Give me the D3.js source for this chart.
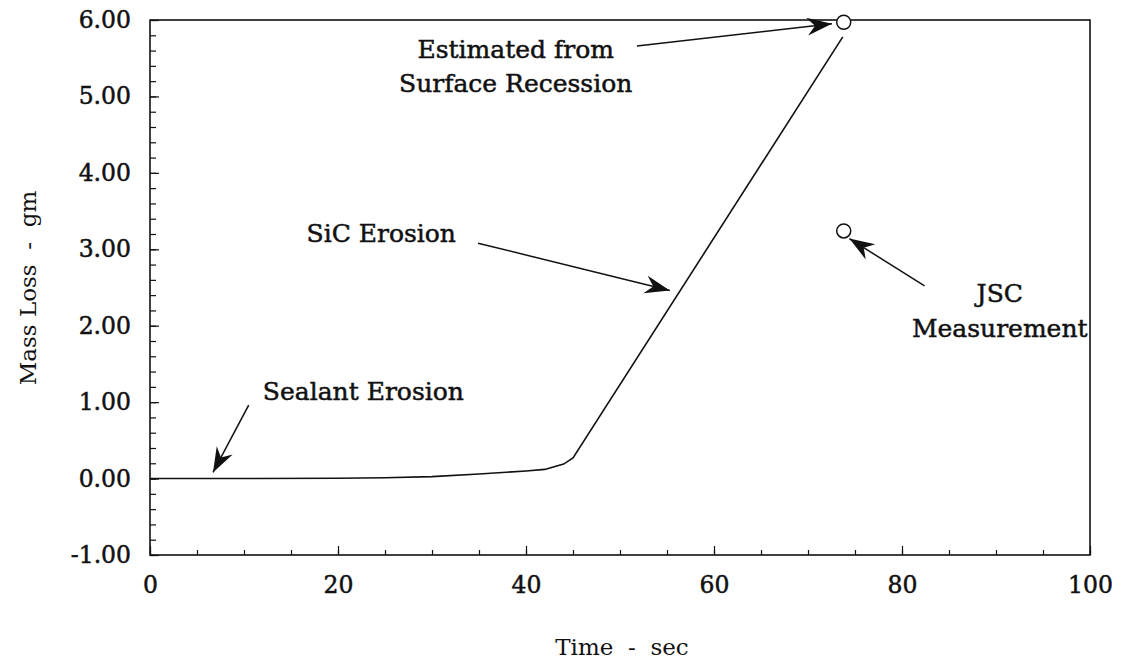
<!DOCTYPE html>
<html>
<head>
<meta charset="utf-8">
<script src="https://cdn.jsdelivr.net/npm/d3@7"></script>
<style>
  body { margin: 0; background: #fff; }
  text { font-family: "DejaVu Serif", serif; fill: #111; }
</style>
</head>
<body>
<div id="chart"></div>
<script>
// mass loss curve
var time = [0, 10, 20, 25, 30, 35, 40, 42, 44, 45, 73.7];
var massLoss = [0, 0, 0.005, 0.01, 0.025, 0.06, 0.1, 0.12, 0.19, 0.27, 5.78];

// open circle points
var pointNames = ["Estimated", "JSC"];
var pointTime = [73.8, 73.8];
var pointMass = [5.97, 3.24];

var xTicks = [0, 20, 40, 60, 80, 100];
var yTicks = [-1, 0, 1, 2, 3, 4, 5, 6];

// annotation text lines (time, mass of baseline centre)
var noteLines = ["Estimated from", "Surface Recession", "SiC Erosion", "Sealant Erosion", "JSC", "Measurement"];
var noteTime = [38.9, 38.9, 24.6, 22.7, 90.4, 90.4];
var noteMass = [5.5, 5.06, 3.1, 1.03, 2.31, 1.85];

// arrows: tail -> tip
var arrowFromT = [51.8, 34.9, 82.4, 10.5];
var arrowFromM = [5.66, 3.08, 2.52, 0.96];
var arrowToT = [72.55, 55.3, 74.4, 6.7];
var arrowToM = [5.95, 2.46, 3.14, 0.08];

var width = 1126, height = 664;
var mLeft = 150, mRight = 1090, mTop = 20, mBottom = 555;

var svg = d3.select("#chart").append("svg")
	.attr("width", width)
	.attr("height", height);

var x = d3.scaleLinear().domain([0, 100]).range([mLeft, mRight]);
var y = d3.scaleLinear().domain([-1, 6]).range([mBottom, mTop]);

// minor ticks
svg.append("g")
	.attr("transform", "translate(0," + mBottom + ")")
	.call(d3.axisBottom(x).tickValues(d3.range(0, 101, 5)).tickSize(-5).tickFormat(""))
	.call(function(g){ g.select(".domain").remove(); });
svg.append("g")
	.attr("transform", "translate(" + mLeft + ",0)")
	.call(d3.axisLeft(y).tickValues(d3.range(-1, 6.01, 0.2)).tickSize(-6).tickFormat(""))
	.call(function(g){ g.select(".domain").remove(); });

// major ticks + labels
var xAxis = svg.append("g")
	.attr("transform", "translate(0," + mBottom + ")")
	.call(d3.axisBottom(x).tickValues(xTicks).tickSize(-9).tickPadding(21).tickFormat(d3.format("d")));
xAxis.select(".domain").remove();

var yAxis = svg.append("g")
	.attr("transform", "translate(" + mLeft + ",0)")
	.call(d3.axisLeft(y).tickValues(yTicks).tickSize(-9).tickPadding(19)
		.tickFormat(function(d){ return d.toFixed(2); }));
yAxis.select(".domain").remove();

svg.selectAll(".tick line").attr("stroke", "#111").attr("stroke-width", 1.2);
svg.selectAll(".tick text")
	.attr("font-family", "DejaVu Serif")
	.attr("font-size", 23.5)
	.attr("fill", "#111")
	.attr("stroke", "#111")
	.attr("stroke-width", 0.5);

// frame
svg.append("rect")
	.attr("x", mLeft)
	.attr("y", mTop)
	.attr("width", mRight - mLeft)
	.attr("height", mBottom - mTop)
	.attr("fill", "none")
	.attr("stroke", "#111")
	.attr("stroke-width", 1.6);

// curve
var line = d3.line()
	.x(function(d){ return x(d[0]); })
	.y(function(d){ return y(d[1]); });

svg.append("path")
	.datum(d3.zip(time, massLoss))
	.attr("d", line)
	.attr("fill", "none")
	.attr("stroke", "#111")
	.attr("stroke-width", 1.6);

// circles
svg.selectAll(".pt")
	.data(pointNames)
	.enter()
	.append("circle")
	.attr("class", "pt")
	.attr("cx", function(d, i){ return x(pointTime[i]); })
	.attr("cy", function(d, i){ return y(pointMass[i]); })
	.attr("r", 7)
	.attr("fill", "#fff")
	.attr("stroke", "#111")
	.attr("stroke-width", 1.5);

// arrow head
svg.append("defs").append("marker")
	.attr("id", "head")
	.attr("viewBox", "-26 -10 28 20")
	.attr("refX", 0)
	.attr("refY", 0)
	.attr("markerUnits", "userSpaceOnUse")
	.attr("markerWidth", 28)
	.attr("markerHeight", 20)
	.attr("orient", "auto")
	.append("path")
	.attr("d", "M0,0 L-25,-9 L-17,0 L-25,9 Z")
	.attr("fill", "#111");

svg.selectAll(".arrow")
	.data(arrowFromT)
	.enter()
	.append("line")
	.attr("class", "arrow")
	.attr("x1", function(d, i){ return x(arrowFromT[i]); })
	.attr("y1", function(d, i){ return y(arrowFromM[i]); })
	.attr("x2", function(d, i){ return x(arrowToT[i]); })
	.attr("y2", function(d, i){ return y(arrowToM[i]); })
	.attr("stroke", "#111")
	.attr("stroke-width", 1.5)
	.attr("marker-end", "url(#head)");

// notes
svg.selectAll(".note")
	.data(noteLines)
	.enter()
	.append("text")
	.attr("class", "note")
	.attr("x", function(d, i){ return x(noteTime[i]); })
	.attr("y", function(d, i){ return y(noteMass[i]); })
	.attr("text-anchor", "middle")
	.attr("font-size", 25)
	.attr("stroke", "#111")
	.attr("stroke-width", 0.5)
	.text(function(d){ return d; });

// axis titles
svg.append("text")
	.attr("x", 622)
	.attr("y", 655)
	.attr("text-anchor", "middle")
	.attr("font-size", 23)
	.style("white-space", "pre")
	.text("Time  -  sec");

svg.append("text")
	.attr("transform", "translate(36,288) rotate(-90)")
	.attr("text-anchor", "middle")
	.attr("font-size", 23)
	.style("white-space", "pre")
	.text("Mass Loss  -  gm");
</script>
</body>
</html>
